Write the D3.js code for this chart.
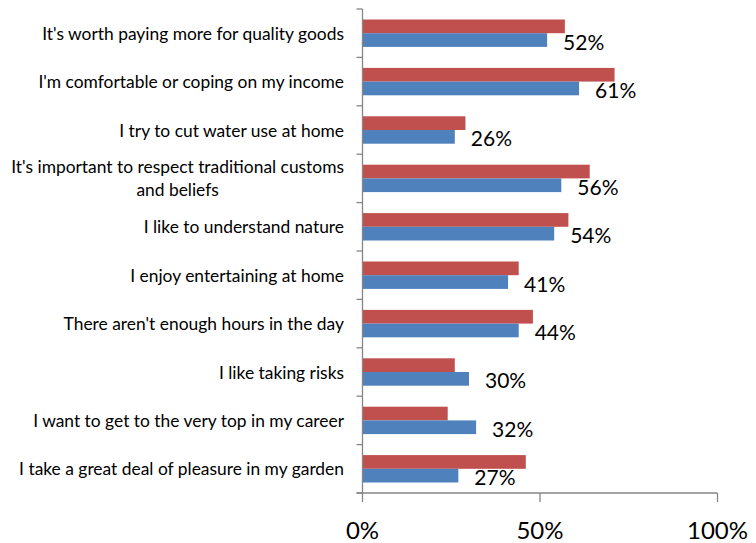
<!DOCTYPE html>
<html><head><meta charset="utf-8">
<script src="https://cdn.jsdelivr.net/npm/d3@7"></script>
<style>body{margin:0;background:#fff}svg{display:block}</style>
</head><body>
<svg id="c" width="756" height="543"></svg>
<script>
const categories = [
  "It's worth paying more for quality goods",
  "I'm comfortable or coping on my income",
  "I try to cut water use at home",
  "It's important to respect traditional customs\nand beliefs",
  "I like to understand nature",
  "I enjoy entertaining at home",
  "There aren't enough hours in the day",
  "I like taking risks",
  "I want to get to the very top in my career",
  "I take a great deal of pleasure in my garden"
];
const seriesRed = [57, 71, 29, 64, 58, 44, 48, 26, 24, 46];
const seriesBlue = [52, 61, 26, 56, 54, 41, 44, 30, 32, 27];
const xTicks = [0, 50, 100];

const svg = d3.select("#c");
const x0 = 362.5, x1 = 717.5, yTop = 9, yBot = 493;
const x = d3.scaleLinear().domain([0, 100]).range([x0, x1]);
const y = d3.scaleBand().domain(categories).range([yTop, yBot]).paddingInner(0).paddingOuter(0);
const sub = d3.scaleBand().domain(["red", "blue"]).range([0, y.bandwidth()]).paddingInner(0).paddingOuter(0.766);
const colors = {red: "#C0504D", blue: "#4F81BD"};

const rows = categories.map((c, i) => ({c, red: seriesRed[i], blue: seriesBlue[i]}));

const g = svg.append("g");
["red", "blue"].forEach(s => {
  g.selectAll("rect." + s).data(rows).enter().append("rect")
    .attr("class", s)
    .attr("x", x(0))
    .attr("y", d => y(d.c) + sub(s))
    .attr("width", d => x(d[s]) - x(0))
    .attr("height", sub.bandwidth())
    .attr("fill", colors[s]);
});

// value labels for blue series
g.selectAll("text.val").data(rows).enter().append("text")
  .attr("class", "val")
  .attr("x", d => x(d.blue) + 16)
  .attr("y", d => y(d.c) + sub("blue") + sub.bandwidth() / 2 + 1)
  .attr("dominant-baseline", "central")
  .attr("font-family", "Lato, 'Open Sans', sans-serif")
  .attr("font-size", 21)
  .attr("fill", "#000")
  .text(d => d.blue + "%");

// axes
const axisColor = "#868686";
svg.append("line").attr("x1", x0).attr("x2", x0).attr("y1", yTop).attr("y2", yBot)
  .attr("stroke", axisColor).attr("stroke-width", 1.3);
const bounds = categories.map(c => y(c)).concat([yBot]);
svg.selectAll("line.yt").data(bounds).enter().append("line")
  .attr("x1", x0 - 6).attr("x2", x0).attr("y1", d => d).attr("y2", d => d)
  .attr("stroke", axisColor).attr("stroke-width", 1.3);
svg.append("line").attr("x1", x0 - 6).attr("x2", x1).attr("y1", yBot).attr("y2", yBot)
  .attr("stroke", axisColor).attr("stroke-width", 1.3);
svg.selectAll("line.xt").data(xTicks).enter().append("line")
  .attr("x1", d => x(d)).attr("x2", d => x(d)).attr("y1", yBot).attr("y2", yBot + 9)
  .attr("stroke", axisColor).attr("stroke-width", 1.3);
svg.selectAll("text.xt").data(xTicks).enter().append("text")
  .attr("x", d => x(d)).attr("y", 539)
  .attr("text-anchor", "middle")
  .attr("font-family", "Lato, 'Open Sans', sans-serif")
  .attr("font-size", 24)
  .attr("fill", "#000")
  .text(d => d + "%");

// category labels
const lab = svg.selectAll("text.cat").data(categories).enter().append("text")
  .attr("class", "cat")
  .attr("text-anchor", "middle")
  .attr("font-family", "Lato, 'Open Sans', sans-serif")
  .attr("font-size", 17.4)
  .attr("fill", "#000");
lab.each(function(c) {
  const lines = c.split("\n");
  const t = d3.select(this);
  const cy = y(c) + y.bandwidth() / 2;
  const lh = 23;
  lines.forEach((ln, i) => {
    t.append("tspan")
      .attr("x", 0)
      .attr("y", cy + (i - (lines.length - 1) / 2) * lh)
      .attr("dominant-baseline", "central")
      .text(ln);
  });
});
lab.each(function(c) {
  const t = d3.select(this);
  const tspans = t.selectAll("tspan").nodes();
  const widths = tspans.map(n => n.getComputedTextLength());
  const maxW = d3.max(widths);
  const center = 344 - maxW / 2;
  tspans.forEach(n => d3.select(n).attr("x", center));
});
</script>
</body></html>
